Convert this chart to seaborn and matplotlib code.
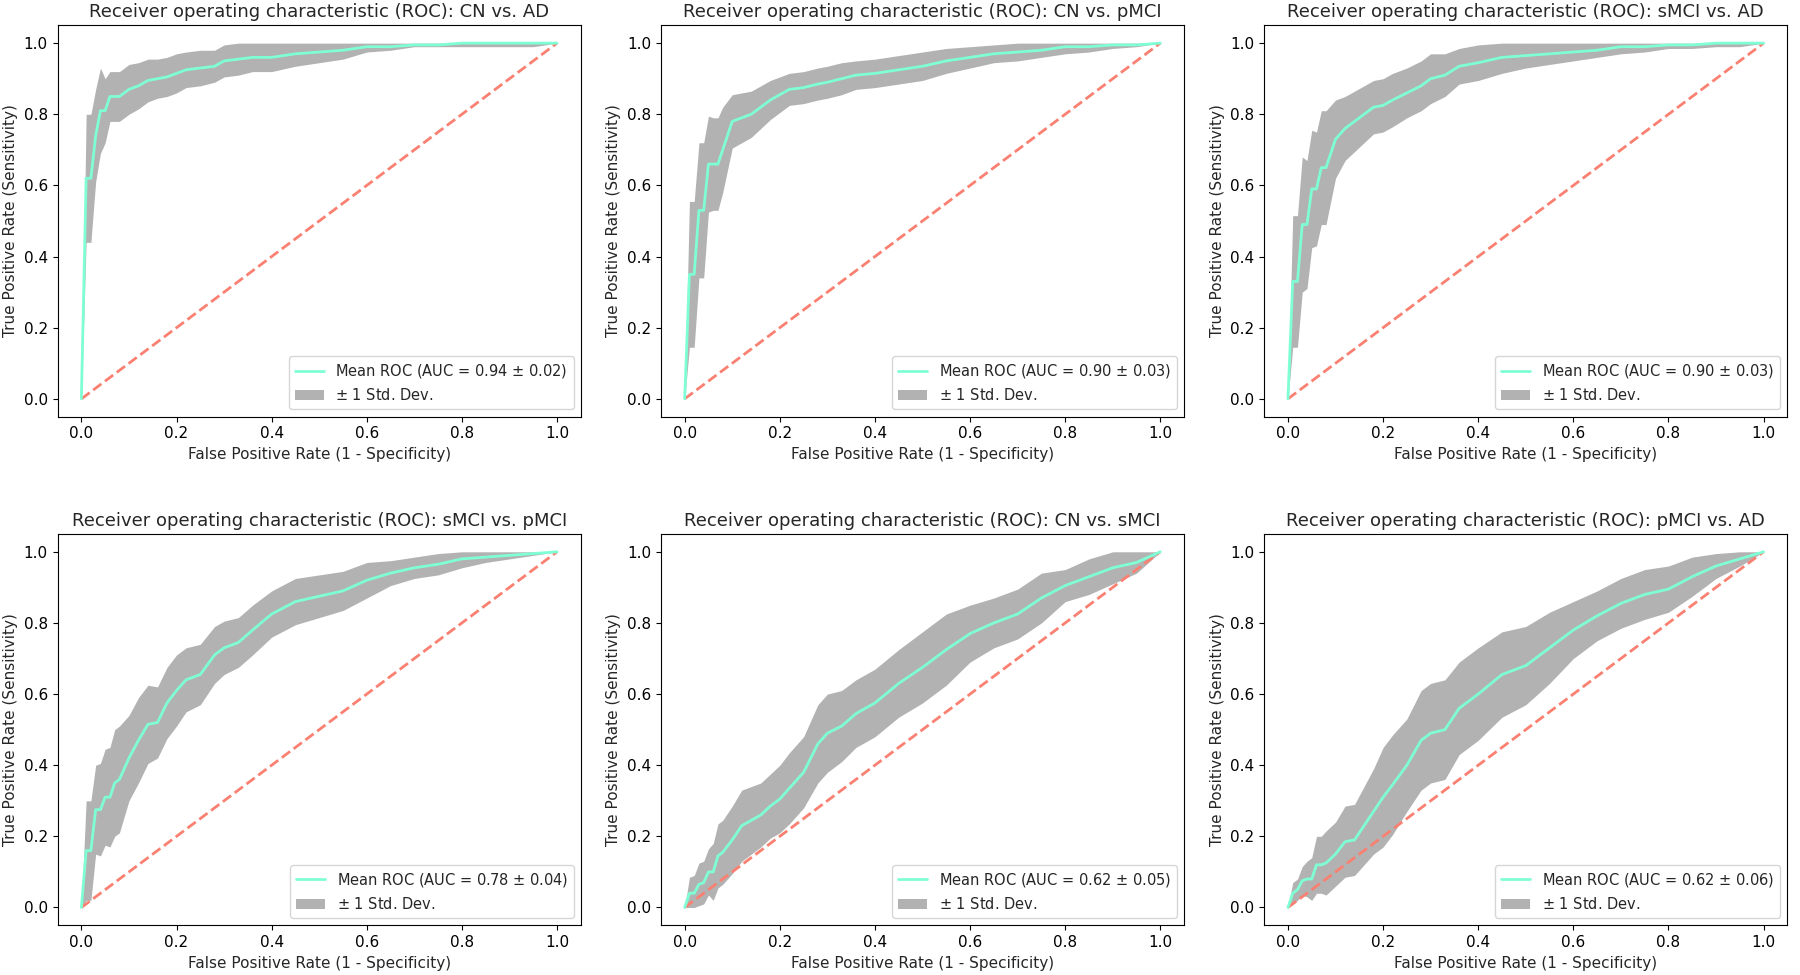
import matplotlib
matplotlib.use('Agg')
import matplotlib.pyplot as plt
import seaborn as sns
import numpy as np
import pandas as pd

# Shared false positive rate grid
mean_fpr = [0, .01, .02, .03, .04, .05, .06, .07, .08, .10, .12, .14, .16, .18, .20, .22,
            .25, .28, .30, .33, .36, .40, .45, .50, .55, .60, .65, .70, .75, .80, .85, .90, .95, 1.0]

titles = ['CN vs. AD', 'CN vs. pMCI', 'sMCI vs. AD', 'sMCI vs. pMCI', 'CN vs. sMCI', 'pMCI vs. AD']
auc_means = [0.94, 0.90, 0.90, 0.78, 0.62, 0.62]
auc_stds = [0.02, 0.03, 0.03, 0.04, 0.05, 0.06]

# Mean TPR and std per comparison
tpr_cn_ad = [0, .62, .62, .74, .81, .81, .85, .85, .85, .87, .88, .895, .90, .905, .915, .925,
             .93, .935, .95, .955, .96, .96, .97, .975, .98, .99, .99, .995, .995, 1, 1, 1, 1, 1]
std_cn_ad = [0, .18, .18, .13, .12, .09, .07, .07, .07, .07, .065, .06, .055, .055, .055, .05,
             .05, .045, .045, .045, .04, .04, .035, .03, .025, .015, .01, .005, .005, .01, .01, .01, .01, 0]

tpr_cn_pmci = [0, .35, .35, .53, .53, .66, .66, .66, .70, .78, .79, .80, .82, .84, .855, .87,
               .875, .885, .89, .90, .91, .915, .925, .935, .95, .96, .97, .975, .98, .99, .99, .995, .995, 1]
std_cn_pmci = [0, .205, .205, .19, .19, .135, .13, .13, .12, .075, .07, .065, .06, .055, .05, .045,
               .045, .045, .045, .045, .04, .04, .04, .04, .035, .03, .025, .025, .02, .02, .015, .01, .005, 0]

tpr_smci_ad = [0, .33, .33, .49, .49, .59, .59, .65, .65, .73, .76, .78, .80, .82, .825, .84,
               .86, .88, .90, .91, .935, .945, .96, .965, .97, .975, .98, .99, .99, .995, .995, 1, 1, 1]
std_smci_ad = [0, .185, .185, .19, .18, .165, .16, .16, .16, .11, .09, .085, .08, .075, .075, .075,
               .07, .07, .07, .06, .05, .05, .045, .035, .03, .025, .02, .02, .015, .01, .01, .01, .01, 0]

tpr_smci_pmci = [0, .16, .16, .275, .275, .31, .31, .35, .36, .42, .47, .515, .52, .575, .61, .64,
                 .655, .71, .73, .745, .78, .825, .86, .875, .89, .92, .94, .955, .965, .98, .985, .99, .995, 1]
std_smci_pmci = [0, .14, .14, .125, .13, .135, .14, .15, .15, .12, .12, .11, .10, .10, .10, .09,
                 .085, .08, .075, .07, .07, .065, .065, .06, .055, .05, .035, .03, .03, .025, .015, .01, .005, 0]

tpr_cn_smci = [0, .04, .04, .065, .07, .10, .10, .145, .155, .19, .23, .245, .26, .285, .305, .335,
               .38, .46, .49, .51, .545, .575, .63, .675, .725, .77, .80, .825, .87, .905, .93, .955, .97, 1]
std_cn_smci = [0, .045, .05, .06, .06, .065, .08, .09, .09, .095, .10, .095, .09, .09, .095, .10,
               .10, .11, .11, .10, .095, .095, .095, .10, .10, .08, .07, .07, .07, .045, .05, .045, .03, 0]

tpr_pmci_ad = [0, .04, .05, .075, .08, .08, .12, .12, .125, .15, .185, .19, .23, .27, .31, .345,
               .40, .47, .49, .50, .56, .60, .655, .68, .73, .78, .82, .855, .88, .895, .93, .96, .98, 1]
std_pmci_ad = [0, .03, .03, .04, .05, .06, .08, .08, .09, .09, .10, .10, .11, .12, .14, .14,
               .13, .14, .14, .14, .13, .13, .12, .11, .10, .08, .07, .07, .07, .065, .055, .035, .02, 0]

mean_tprs = [tpr_cn_ad, tpr_cn_pmci, tpr_smci_ad, tpr_smci_pmci, tpr_cn_smci, tpr_pmci_ad]
std_tprs = [std_cn_ad, std_cn_pmci, std_smci_ad, std_smci_pmci, std_cn_smci, std_pmci_ad]

sns.set_style('ticks')
plt.rcParams['font.family'] = ['DejaVu Sans']

fig, axes = plt.subplots(2, 3, figsize=(18, 9.75), dpi=100)
fig.subplots_adjust(left=0.032, right=0.993, top=0.974, bottom=0.051, wspace=0.153, hspace=0.30)

for ax, title, tpr, std, auc_m, auc_s in zip(axes.flat, titles, mean_tprs, std_tprs, auc_means, auc_stds):
    df = pd.DataFrame({'fpr': mean_fpr, 'tpr': tpr, 'std': std})
    upper = np.minimum(df['tpr'] + df['std'], 1)
    lower = np.maximum(df['tpr'] - df['std'], 0)

    # chance line
    ax.plot([0, 1], [0, 1], linestyle='--', lw=2, color='salmon')
    ax.fill_between(df['fpr'], lower, upper, color='grey', alpha=0.6,
                    lw=0, label=r'$\pm$ 1 Std. Dev.')
    sns.lineplot(data=df, x='fpr', y='tpr', ax=ax, color='aquamarine', lw=2,
                 label=f'Mean ROC (AUC = {auc_m:.2f} $\\pm$ {auc_s:.2f})')

    ax.set_xlim(-0.05, 1.05)
    ax.set_ylim(-0.05, 1.05)
    ax.set_xticks([0, 0.2, 0.4, 0.6, 0.8, 1.0])
    ax.set_yticks([0, 0.2, 0.4, 0.6, 0.8, 1.0])
    ax.tick_params(labelsize=11, colors='black')
    for sp in ax.spines.values():
        sp.set_color('black')
    ax.set_xlabel('False Positive Rate (1 - Specificity)', fontsize=11)
    ax.set_ylabel('True Positive Rate (Sensitivity)', fontsize=11)
    ax.set_title(f'Receiver operating characteristic (ROC): {title}', fontsize=13)

    # mean line first, band second
    handles, labels = ax.get_legend_handles_labels()
    ax.legend(handles[::-1], labels[::-1], loc='lower right', fontsize=10.5)

plt.savefig('out.png')
